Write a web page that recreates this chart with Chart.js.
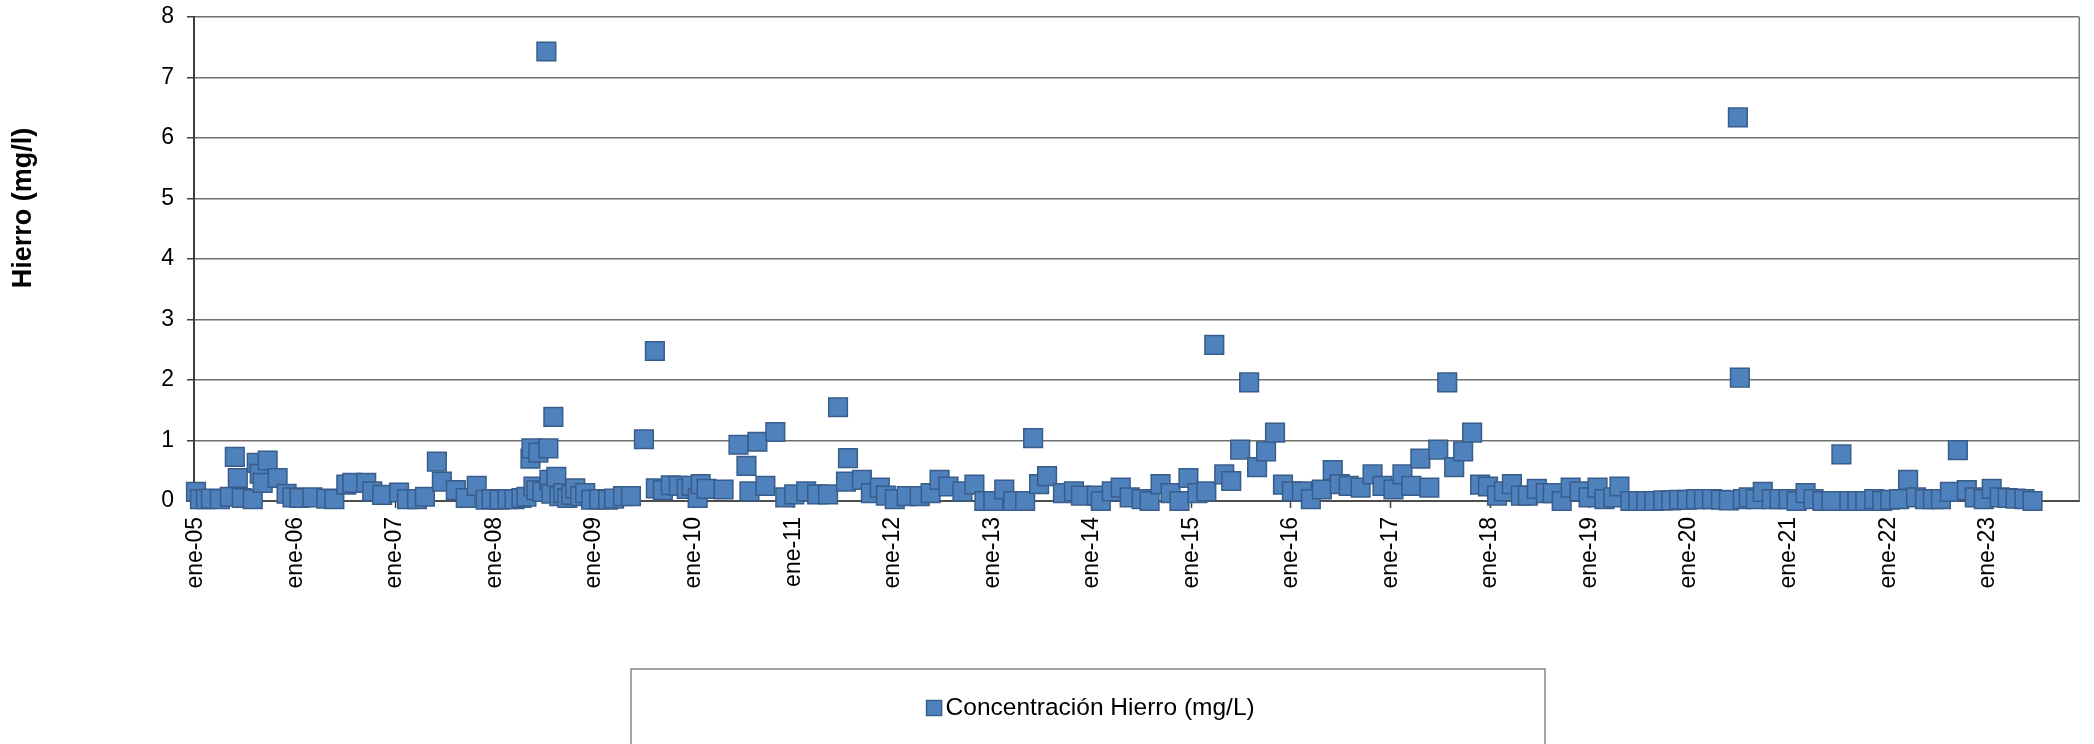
<!DOCTYPE html>
<html lang="es">
<head>
<meta charset="utf-8">
<title>Concentración Hierro</title>
<script src="https://cdn.jsdelivr.net/npm/chart.js@4.4.1/dist/chart.umd.min.js"></script>
<style>
  html, body { margin: 0; padding: 0; background: #fff; }
  #wrap { width: 2094px; height: 744px; position: relative; }
</style>
</head>
<body>
<div id="wrap"><canvas id="c"></canvas></div>
<script>
// Sample dates as decimal years (2008.5 = mid 2008).
const fechas = [
  2005.00, 2005.04, 2005.10, 2005.15, 2005.24, 2005.34, 2005.39, 2005.42, 2005.46, 2005.57,
  2005.61, 2005.64, 2005.67, 2005.72, 2005.82, 2005.91, 2005.97, 2006.04, 2006.17, 2006.31,
  2006.39, 2006.51, 2006.57, 2006.71, 2006.77, 2006.87, 2007.04, 2007.12, 2007.22, 2007.30,
  2007.42, 2007.47, 2007.61, 2007.71, 2007.82, 2007.91, 2007.97, 2008.05, 2008.13, 2008.20,
  2008.27, 2008.32, 2008.36, 2008.37, 2008.39, 2008.42, 2008.44, 2008.48, 2008.52, 2008.54,
  2008.55, 2008.57, 2008.59, 2008.62, 2008.65, 2008.69, 2008.73, 2008.77, 2008.81, 2008.86,
  2008.91, 2008.97, 2009.05, 2009.14, 2009.20, 2009.29, 2009.37, 2009.50, 2009.61, 2009.62,
  2009.69, 2009.77, 2009.85, 2009.93, 2009.98, 2010.04, 2010.07, 2010.13, 2010.30, 2010.45,
  2010.53, 2010.56, 2010.64, 2010.72, 2010.82, 2010.92, 2011.01, 2011.13, 2011.24, 2011.35,
  2011.45, 2011.53, 2011.55, 2011.69, 2011.78, 2011.87, 2011.93, 2012.02, 2012.14, 2012.27,
  2012.38, 2012.47, 2012.56, 2012.70, 2012.82, 2012.92, 2013.01, 2013.12, 2013.21, 2013.33,
  2013.41, 2013.47, 2013.55, 2013.71, 2013.82, 2013.89, 2014.05, 2014.09, 2014.20, 2014.29,
  2014.38, 2014.50, 2014.58, 2014.69, 2014.79, 2014.88, 2014.97, 2015.06, 2015.15, 2015.23,
  2015.33, 2015.40, 2015.49, 2015.58, 2015.66, 2015.75, 2015.84, 2015.92, 2016.01, 2016.11,
  2016.20, 2016.31, 2016.42, 2016.49, 2016.58, 2016.70, 2016.82, 2016.92, 2017.03, 2017.12,
  2017.21, 2017.30, 2017.39, 2017.48, 2017.57, 2017.64, 2017.73, 2017.82, 2017.90, 2017.98,
  2018.07, 2018.14, 2018.22, 2018.31, 2018.38, 2018.47, 2018.56, 2018.63, 2018.72, 2018.81,
  2018.90, 2018.99, 2019.08, 2019.15, 2019.24, 2019.30, 2019.41, 2019.49, 2019.57, 2019.65,
  2019.74, 2019.82, 2019.90, 2019.98, 2020.07, 2020.15, 2020.23, 2020.32, 2020.40, 2020.49,
  2020.51, 2020.54, 2020.60, 2020.67, 2020.74, 2020.83, 2020.91, 2021.00, 2021.08, 2021.17,
  2021.25, 2021.34, 2021.43, 2021.53, 2021.61, 2021.69, 2021.77, 2021.86, 2021.94, 2022.02,
  2022.11, 2022.20, 2022.28, 2022.37, 2022.45, 2022.53, 2022.62, 2022.70, 2022.79, 2022.87,
  2022.96, 2023.04, 2023.12, 2023.20, 2023.28, 2023.37, 2023.45
];

// Iron concentration (mg/L) for each date above.
const hierro = [
  0.15, 0.03, 0.03, 0.04, 0.03, 0.07, 0.73, 0.38, 0.05, 0.03,
  0.63, 0.45, 0.30, 0.67, 0.38, 0.12, 0.06, 0.05, 0.06, 0.04,
  0.03, 0.27, 0.30, 0.30, 0.16, 0.10, 0.14, 0.03, 0.03, 0.07,
  0.65, 0.32, 0.18, 0.05, 0.25, 0.02, 0.03, 0.02, 0.03, 0.03,
  0.05, 0.07, 0.70, 0.87, 0.24, 0.18, 0.80, 0.15, 7.43, 0.87,
  0.35, 0.12, 1.39, 0.40, 0.08, 0.13, 0.05, 0.10, 0.21, 0.08,
  0.13, 0.02, 0.03, 0.02, 0.04, 0.08, 0.08, 1.02, 2.48, 0.21,
  0.18, 0.26, 0.25, 0.20, 0.25, 0.05, 0.28, 0.20, 0.19, 0.93,
  0.58, 0.16, 0.98, 0.25, 1.14, 0.06, 0.11, 0.16, 0.11, 0.11,
  1.55, 0.32, 0.71, 0.35, 0.13, 0.22, 0.09, 0.03, 0.08, 0.08,
  0.13, 0.35, 0.24, 0.16, 0.27, 0.00, 0.00, 0.19, 0.00, 0.00,
  1.04, 0.28, 0.41, 0.13, 0.16, 0.09, 0.09, 0.00, 0.16, 0.22,
  0.06, 0.03, 0.00, 0.28, 0.13, 0.00, 0.38, 0.13, 0.16, 2.58,
  0.44, 0.33, 0.85, 1.96, 0.56, 0.82, 1.13, 0.27, 0.16, 0.16,
  0.03, 0.19, 0.51, 0.28, 0.25, 0.22, 0.44, 0.25, 0.19, 0.44,
  0.25, 0.70, 0.22, 0.85, 1.96, 0.56, 0.82, 1.13, 0.27, 0.24,
  0.09, 0.16, 0.28, 0.09, 0.09, 0.20, 0.13, 0.13, 0.00, 0.22,
  0.16, 0.06, 0.22, 0.03, 0.06, 0.24, 0.00, 0.00, 0.00, 0.00,
  0.01, 0.01, 0.02, 0.02, 0.03, 0.03, 0.03, 0.02, 0.01, 6.34,
  2.04, 0.03, 0.06, 0.03, 0.15, 0.03, 0.03, 0.03, 0.00, 0.13,
  0.03, 0.00, 0.00, 0.77, 0.00, 0.00, 0.00, 0.03, 0.00, 0.02,
  0.03, 0.35, 0.06, 0.03, 0.03, 0.03, 0.15, 0.84, 0.18, 0.06,
  0.03, 0.20, 0.06, 0.05, 0.04, 0.03, 0.00
];

const yearTicks = [2005, 2006, 2007, 2008, 2009, 2010, 2011, 2012, 2013, 2014,
                   2015, 2016, 2017, 2018, 2019, 2020, 2021, 2022, 2023];
const xTickLabels = ['ene-05', 'ene-06', 'ene-07', 'ene-08', 'ene-09', 'ene-10', 'ene-11',
                     'ene-12', 'ene-13', 'ene-14', 'ene-15', 'ene-16', 'ene-17', 'ene-18',
                     'ene-19', 'ene-20', 'ene-21', 'ene-22', 'ene-23'];

const serieLabel = 'Concentración Hierro (mg/L)';
const yTitle = 'Hierro (mg/l)';

const FONT = "'Liberation Sans', Arial, sans-serif";
const PLOT = { left: 194, right: 2088, top: 17, bottom: 501 };
const LEG_BOX = { x: 631, y: 669, w: 914, h: 200 };
const LEG_FONT = 24.5;
const LEG_PAD = 10;
const LEG_CENTER_Y = 708;
const LEG_SWATCH = 15;

// Extra drawing Excel does that Chart.js doesn't: right frame line,
// boxed legend with a tight swatch, and the off-centre axis title.
const excelFrame = {
  id: 'excelFrame',
  afterLayout(chart) {
    const lg = chart.legend;
    if (!lg) return;
    const h = lg.height;
    lg.left = LEG_BOX.x + 6;
    lg.right = LEG_BOX.x + LEG_BOX.w + 6;
    lg.width = LEG_BOX.w;
    lg.top = LEG_CENTER_Y - LEG_PAD - LEG_FONT / 2;
    lg.bottom = lg.top + h;
  },
  beforeDatasetsDraw(chart) {
    const { ctx, chartArea: a } = chart;
    ctx.save();
    ctx.strokeStyle = '#7a7a7a';
    ctx.lineWidth = 1.5;
    ctx.beginPath();
    ctx.moveTo(a.right, a.top);
    ctx.lineTo(a.right, a.bottom);
    ctx.stroke();
    ctx.restore();
  },
  afterDraw(chart) {
    const ctx = chart.ctx;
    const lg = chart.legend;
    const ds = chart.data.datasets[0];
    ctx.save();
    ctx.strokeStyle = '#868686';
    ctx.lineWidth = 1.5;
    ctx.strokeRect(LEG_BOX.x, LEG_BOX.y, LEG_BOX.w, LEG_BOX.h);

    // swatch just left of the legend text (Chart.js leaves fontSize/2 there)
    if (lg && lg.lineWidths) {
      const x0 = (lg.left + LEG_PAD + lg.right - lg.lineWidths[0]) / 2;
      const textX = x0 + LEG_FONT / 2;
      ctx.fillStyle = ds.backgroundColor;
      ctx.strokeStyle = ds.borderColor;
      ctx.lineWidth = 1.5;
      const sx = textX - 4 - LEG_SWATCH;
      const sy = LEG_CENTER_Y - LEG_SWATCH / 2;
      ctx.fillRect(sx, sy, LEG_SWATCH, LEG_SWATCH);
      ctx.strokeRect(sx, sy, LEG_SWATCH, LEG_SWATCH);
    }

    ctx.translate(24, 208);
    ctx.rotate(-Math.PI / 2);
    ctx.font = `bold 27px ${FONT}`;
    ctx.fillStyle = '#000';
    ctx.textAlign = 'center';
    ctx.textBaseline = 'middle';
    ctx.fillText(yTitle, 0, 0);
    ctx.restore();
  }
};

Chart.defaults.font.family = FONT;
Chart.defaults.color = '#000';

new Chart(document.getElementById('c'), {
  type: 'scatter',
  data: {
    datasets: [{
      label: serieLabel,
      data: fechas.map((f, i) => ({ x: f, y: hierro[i] })),
      pointStyle: 'rect',
      pointRadius: 13.2,
      pointHoverRadius: 13.2,
      backgroundColor: '#4F81BD',
      borderColor: '#385D8A',
      borderWidth: 1.5,
      clip: false
    }]
  },
  options: {
    responsive: true,
    maintainAspectRatio: false,
    animation: false,
    devicePixelRatio: 1,
    layout: { padding: { left: 0, right: 2094 - PLOT.right, top: PLOT.top, bottom: 0 } },
    plugins: {
      legend: {
        position: 'bottom',
        labels: {
          font: { size: LEG_FONT },
          color: '#000',
          boxWidth: 0,
          boxHeight: LEG_SWATCH,
          padding: LEG_PAD
        }
      },
      tooltip: { enabled: false }
    },
    scales: {
      x: {
        type: 'linear',
        min: 2004.98,
        max: 2023.92,
        afterBuildTicks: s => { s.ticks = yearTicks.map(v => ({ value: v })); },
        afterFit: s => {
          const lh = s.chart.legend ? s.chart.legend.height : 44.5;
          s.height = s.chart.height - PLOT.bottom - lh;
          s.paddingLeft = 0;
          s.paddingRight = 0;
        },
        grid: {
          drawOnChartArea: false,
          drawTicks: true,
          tickLength: 7,
          tickColor: '#404040',
          tickWidth: 1.5
        },
        border: { color: '#4d4d4d', width: 2 },
        ticks: {
          font: { size: 23 },
          color: '#000',
          minRotation: 90,
          maxRotation: 90,
          padding: 9,
          autoSkip: false,
          callback: v => xTickLabels[yearTicks.indexOf(v)] || ''
        }
      },
      y: {
        min: 0,
        max: 8,
        afterFit: s => {
          s.width = PLOT.left;
          s.paddingTop = 0;
          s.paddingBottom = 0;
        },
        grid: {
          color: '#707070',
          lineWidth: 1.5,
          drawTicks: true,
          tickLength: 7,
          tickColor: '#404040',
          tickWidth: 1.5
        },
        border: { color: '#404040', width: 2 },
        ticks: {
          stepSize: 1,
          font: { size: 23 },
          color: '#000',
          padding: 13
        }
      }
    }
  },
  plugins: [excelFrame]
});
</script>
</body>
</html>
